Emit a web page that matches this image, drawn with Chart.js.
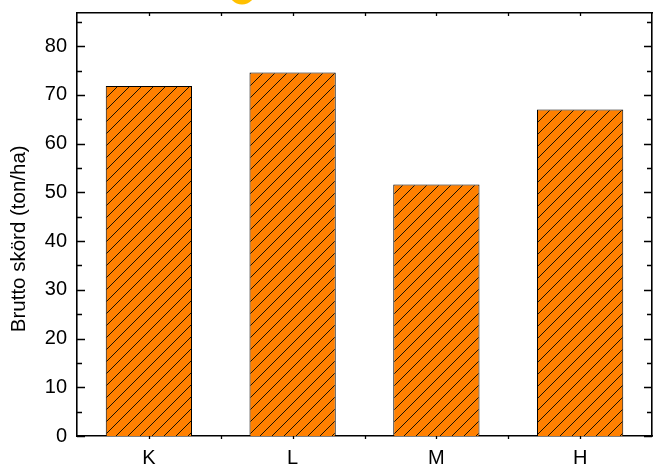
<!DOCTYPE html>
<html>
<head>
<meta charset="utf-8">
<script src="https://cdn.jsdelivr.net/npm/chart.js@4/dist/chart.umd.min.js"></script>
<style>
  html, body { margin: 0; padding: 0; background: #fff; }
  #wrap { width: 653px; height: 465px; }
</style>
</head>
<body>
<div id="wrap"><canvas id="chart1" width="653" height="465"></canvas></div>
<script>
const categories = ['K', 'L', 'M', 'H'];
const yields = [71.8, 74.6, 51.6, 67.0];
const yTicks = [0, 10, 20, 30, 40, 50, 60, 70, 80];
const yMax = 86.8;
const yTitle = 'Brutto skörd (ton/ha)';

const ctx1 = document.getElementById('chart1').getContext('2d');

// hatch pattern: orange with thin "/" lines
function makeHatch() {
  const c = document.createElement('canvas');
  c.width = 12; c.height = 12;
  const g = c.getContext('2d');
  g.fillStyle = '#ff8000';
  g.fillRect(0, 0, 12, 12);
  g.strokeStyle = '#1a1000';
  g.lineWidth = 1;
  g.beginPath();
  g.moveTo(-1, 13); g.lineTo(13, -1);
  g.moveTo(-1, 1); g.lineTo(1, -1);
  g.moveTo(11, 13); g.lineTo(13, 11);
  g.stroke();
  return ctx1.createPattern(c, 'repeat');
}

// inward / outward tick marks like the original plot frame
const frameTicks = {
  id: 'frameTicks',
  afterDatasetsDraw(chart) {
    const a = chart.chartArea;
    const y = chart.scales.y;
    const x = chart.scales.x;
    const c = chart.ctx;
    c.save();
    c.strokeStyle = '#000';
    c.lineWidth = 1.3;
    c.beginPath();
    for (let v = 0; v <= yMax; v += 5) {
      const py = Math.round(y.getPixelForValue(v)) + 0.5;
      const len = v % 10 === 0 ? 8 : 5;
      c.moveTo(a.left, py); c.lineTo(a.left + len, py);
      c.moveTo(a.right, py); c.lineTo(a.right - len, py);
    }
    for (let i = 0; i < categories.length * 2 - 1; i++) {
      const px = Math.round(x.getPixelForValue(i / 2)) + 0.5;
      c.moveTo(px, a.top); c.lineTo(px, a.top + 3);
      c.moveTo(px, a.bottom); c.lineTo(px, a.bottom + 3);
    }
    c.stroke();
    c.restore();
  },
  beforeDraw(chart) {
    // partial yellow marker peeking in at the top edge
    const c = chart.ctx;
    c.save();
    c.fillStyle = '#ffc000';
    c.beginPath();
    c.arc(242, -9, 13.5, 0, Math.PI * 2);
    c.fill();
    c.restore();
  }
};

const tickFont = { family: 'Liberation Sans, Arial, sans-serif', size: 20 };

function noPad(s) {
  s.paddingTop = 0; s.paddingBottom = 0;
  s.paddingLeft = 0; s.paddingRight = 0;
}

new Chart(ctx1, {
  type: 'bar',
  data: {
    labels: categories,
    datasets: [{
      data: yields,
      backgroundColor: makeHatch(),
      borderColor: '#000',
      borderWidth: 1,
      barPercentage: 0.6,
      categoryPercentage: 1
    }]
  },
  options: {
    responsive: false,
    animation: false,
    layout: { padding: { top: 13, right: 1, left: 0, bottom: 0 } },
    plugins: { legend: { display: false }, tooltip: { enabled: false } },
    scales: {
      x: {
        offset: true,
        grid: { display: false, drawTicks: false },
        border: { display: true, color: '#000', width: 1.6 },
        ticks: { color: '#000', font: tickFont, padding: 10 },
        afterFit(s) { s.height = 29; noPad(s); }
      },
      x2: {
        position: 'top',
        offset: true,
        grid: { display: false, drawTicks: false },
        border: { display: true, color: '#000', width: 1.6 },
        ticks: { display: false },
        afterFit(s) { s.height = 0; noPad(s); }
      },
      y: {
        min: 0,
        max: yMax,
        grid: { display: false, drawTicks: false },
        border: { display: true, color: '#000', width: 1.6 },
        afterBuildTicks(s) { s.ticks = yTicks.map(v => ({ value: v })); },
        ticks: { color: '#000', font: tickFont, padding: 10 },
        title: {
          display: true,
          // trailing spaces nudge the centred title slightly downward, as in the original
          text: yTitle + '\u00a0\u00a0\u00a0\u00a0\u00a0',
          color: '#000',
          font: { family: 'Liberation Sans, Arial, sans-serif', size: 20.5 },
          padding: { top: 7, bottom: 0 }
        },
        afterFit(s) { s.width = 77; noPad(s); }
      },
      y2: {
        position: 'right',
        min: 0,
        max: yMax,
        grid: { display: false, drawTicks: false },
        border: { display: true, color: '#000', width: 1.6 },
        ticks: { display: false },
        afterFit(s) { s.width = 0; noPad(s); }
      }
    }
  },
  plugins: [frameTicks]
});
</script>
</body>
</html>
